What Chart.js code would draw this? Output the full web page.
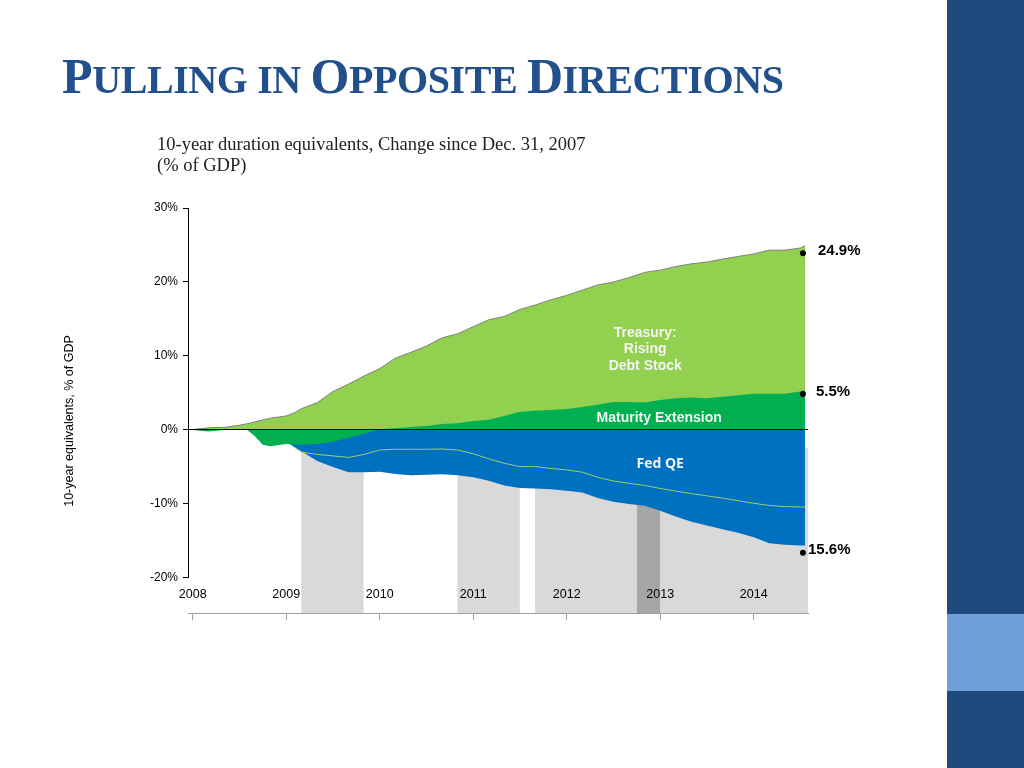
<!DOCTYPE html>
<html lang="en">

<head>
    <meta charset="UTF-8">
    <title>Pulling in Opposite Directions</title>
    <script src="https://cdn.jsdelivr.net/npm/chart.js"></script>
    <style>
        body {
            margin: 0;
            width: 1024px;
            height: 768px;
            position: relative;
            overflow: hidden;
            background: #fff;
            font-family: "Liberation Sans", Arial, sans-serif;
        }

        #durationChart {
            position: absolute;
            left: 0;
            top: 0;
        }

        .title {
            position: absolute;
            left: 62px;
            top: 51px;
            margin: 0;
            font-family: "Liberation Serif", serif;
            font-weight: bold;
            font-size: 50px;
            line-height: 50px;
            letter-spacing: -0.4px;
            color: #21508c;
            white-space: nowrap;
        }

        .title .sm { font-size: 40px; }

        .subtitle {
            position: absolute;
            left: 157px;
            top: 134px;
            font-family: "Liberation Serif", serif;
            font-size: 18.5px;
            line-height: 21px;
            color: #222;
        }

        .sidebar {
            position: absolute;
            left: 947px;
            top: 0;
            width: 77px;
            height: 768px;
            background: #1f497d;
        }

        .sidebar .light {
            position: absolute;
            left: 0;
            top: 614px;
            width: 77px;
            height: 77px;
            background: #6f9fd8;
        }
    </style>
</head>

<body>
    <canvas id="durationChart" width="1024" height="768"></canvas>
    <h1 class="title">P<span class="sm">ULLING IN </span>O<span class="sm">PPOSITE </span>D<span class="sm">IRECTIONS</span></h1>
    <div class="subtitle">10-year duration equivalents, Change since Dec. 31, 2007<br>(% of GDP)</div>
    <div class="sidebar"><div class="light"></div></div>

    <script>
        // months since Dec 31, 2007
        const months = [0, 2, 4, 6, 7, 8, 9, 10, 12, 13, 14, 16, 18, 20, 22, 24, 26, 28, 30, 32, 34, 36,
            38, 40, 42, 44, 46, 48, 50, 52, 54, 56, 58, 60, 62, 64, 66, 68, 70, 72, 74, 76, 78, 78.6];

        // Treasury: rising debt stock (top of light green)
        const treasury = [0.05, 0.3, 0.35, 0.65, 0.85, 1.1, 1.35, 1.6, 1.9, 2.3, 2.9, 3.7, 5.2, 6.2, 7.3, 8.3,
            9.7, 10.5, 11.35, 12.45, 13.0, 13.96, 14.9, 15.35, 16.3, 16.9, 17.6, 18.2, 18.9, 19.6, 20.0,
            20.6, 21.3, 21.6, 22.1, 22.45, 22.7, 23.1, 23.45, 23.8, 24.3, 24.3, 24.6, 24.9];

        // Maturity extension (dark green)
        const maturityExt = [0, -0.2, 0, 0, 0, -0.85, -2.0, -2.2, -1.9, -2.0, -2.0, -1.9, -1.6, -1.05, -0.5,
            0.1, 0.25, 0.4, 0.55, 0.8, 0.9, 1.2, 1.4, 1.9, 2.45, 2.6, 2.7, 2.85, 3.1, 3.4, 3.8, 3.8, 3.7,
            4.05, 4.3, 4.4, 4.3, 4.5, 4.7, 4.9, 4.9, 4.9, 5.2, 5.4];

        // Fed QE (blue)
        const fedQE = [0, 0, 0, 0, 0, 0, 0, 0, -1.5, -2.3, -2.9, -4.2, -5.0, -5.7, -5.7, -5.63, -5.95, -6.1,
            -6.05, -5.97, -6.1, -6.4, -6.85, -7.5, -7.85, -7.9, -8.0, -8.2, -8.45, -9.2, -9.7, -10.0,
            -10.25, -10.9, -11.7, -12.4, -12.9, -13.4, -13.9, -14.5, -15.3, -15.5, -15.6, -15.6];

        // thin line inside the Fed QE area
        const fedQELine = [null, null, null, null, null, null, null, null, null, -2.3, -3.0, -3.3, -3.5,
            -3.7, -3.3, -2.7, -2.6, -2.6, -2.6, -2.57, -2.7, -3.2, -3.9, -4.5, -4.95, -4.95, -5.2, -5.4,
            -5.7, -6.4, -6.9, -7.2, -7.5, -7.9, -8.25, -8.6, -8.9, -9.2, -9.55, -9.9, -10.2, -10.35,
            -10.4, -10.4];

        const yearTicks = [2008, 2009, 2010, 2011, 2012, 2013, 2014];
        const yTicks = [-20, -10, 0, 10, 20, 30];

        // shaded periods (years)
        const bandStart = [2009.16, 2010.83, 2011.66];
        const bandEnd = [2009.83, 2011.50, 2014.58];
        const darkBandStart = [2012.75];
        const darkBandEnd = [2013.0];
        const bandTop = -2.4;

        // end markers
        const endDate = 2014.527;
        const endValues = [23.9, 4.86, -16.6];
        const endLabels = ['24.9%', '5.5%', '15.6%'];

        const xMin = 2007.95;
        const xMax = 2014.581;

        const toYear = m => 2008 + m / 12;
        const pts = arr => months.map((m, i) => ({ x: toYear(m), y: arr[i] }));
        const band = (a, b) => [{ x: a, y: bandTop }, { x: b, y: bandTop }];

        const bandSets = bandStart.map((s, i) => ({
            label: 'band' + i,
            data: band(s, bandEnd[i]),
            backgroundColor: '#d9d9d9',
            borderColor: 'rgba(0,0,0,0)',
            borderWidth: 0,
            pointRadius: 0,
            fill: 'start'
        }));
        const darkSets = darkBandStart.map((s, i) => ({
            label: 'dark' + i,
            data: band(s, darkBandEnd[i]),
            backgroundColor: '#a6a6a6',
            borderColor: 'rgba(0,0,0,0)',
            borderWidth: 0,
            pointRadius: 0,
            fill: 'start'
        }));

        const font = { family: '"Liberation Sans", Arial, sans-serif', size: 12 };

        // y axis line (30% to -20%), axis title, area labels and end labels
        const decorations = {
            id: 'decorations',
            afterDraw(chart) {
                const { ctx, chartArea } = chart;
                const x = chart.scales.x;
                const y = chart.scales.y;
                ctx.save();
                const ax = Math.round(chartArea.left) + 0.5;
                const yTop = y.getPixelForValue(yTicks[yTicks.length - 1]);
                const yBot = y.getPixelForValue(yTicks[0]);
                ctx.strokeStyle = '#000';
                ctx.lineWidth = 1;
                ctx.beginPath();
                ctx.moveTo(ax, yTop);
                ctx.lineTo(ax, yBot);
                ctx.stroke();

                // rotated axis title
                ctx.save();
                ctx.translate(70, (yTop + yBot) / 2 + 28);
                ctx.rotate(-Math.PI / 2);
                ctx.fillStyle = '#000';
                ctx.font = '12.5px "Liberation Sans", Arial';
                ctx.textAlign = 'center';
                ctx.textBaseline = 'middle';
                ctx.fillText('10-year equivalents, % of GDP', 0, 0);
                ctx.restore();

                const areaText = [
                    { lines: ['Treasury:', 'Rising', 'Debt Stock'], x: 2012.84, y: 10.9, font: 'bold 14px "Liberation Sans", Arial' },
                    { lines: ['Maturity Extension'], x: 2012.99, y: 1.6, font: 'bold 14px "Liberation Sans", Arial' },
                    { lines: ['Fed QE'], x: 2013.0, y: -4.6, font: 'bold 14px "Open Sans", sans-serif' }
                ];
                ctx.fillStyle = '#f4f4f4';
                ctx.textAlign = 'center';
                ctx.textBaseline = 'middle';
                areaText.forEach(t => {
                    ctx.font = t.font;
                    const cx = x.getPixelForValue(t.x);
                    const cy = y.getPixelForValue(t.y);
                    const lh = 16.5;
                    t.lines.forEach((l, i) => {
                        ctx.fillText(l, cx, cy + (i - (t.lines.length - 1) / 2) * lh);
                    });
                });

                const offs = [[15, -2], [13, -2], [5, -3]];
                const meta = chart.getDatasetMeta(0);
                ctx.fillStyle = '#000';
                ctx.textAlign = 'left';
                ctx.font = 'bold 15px "Liberation Sans", Arial';
                meta.data.forEach((p, i) => {
                    ctx.fillText(endLabels[i], p.x + offs[i][0], p.y + offs[i][1]);
                });
                ctx.restore();
            }
        };

        const ctx = document.getElementById('durationChart').getContext('2d');
        const durationChart = new Chart(ctx, {
            type: 'line',
            data: {
                datasets: [{
                    label: 'end',
                    data: endValues.map(v => ({ x: endDate, y: v })),
                    showLine: false,
                    pointRadius: 3,
                    pointBackgroundColor: '#000',
                    pointBorderWidth: 0
                }, {
                    label: 'Fed QE line',
                    data: pts(fedQELine),
                    borderColor: '#9ccf6a',
                    borderWidth: 1,
                    pointRadius: 0,
                    fill: false
                }, {
                    label: 'Maturity Extension',
                    data: pts(maturityExt),
                    backgroundColor: '#00b050',
                    borderColor: 'rgba(0,0,0,0)',
                    borderWidth: 0,
                    pointRadius: 0,
                    fill: 'origin'
                }, {
                    label: 'Fed QE',
                    data: pts(fedQE),
                    backgroundColor: '#0070c0',
                    borderColor: 'rgba(0,0,0,0)',
                    borderWidth: 0,
                    pointRadius: 0,
                    fill: 'origin'
                }, {
                    label: 'Treasury',
                    data: pts(treasury),
                    backgroundColor: '#92d050',
                    borderColor: '#808080',
                    borderWidth: 1,
                    pointRadius: 0,
                    fill: 'origin'
                }, ...darkSets, ...bandSets]
            },
            options: {
                responsive: false,
                animation: false,
                devicePixelRatio: 1,
                layout: {
                    padding: { left: 60, top: 208, right: 216, bottom: 135 }
                },
                plugins: {
                    legend: { display: false },
                    tooltip: { enabled: false }
                },
                scales: {
                    x: {
                        type: 'linear',
                        min: xMin,
                        max: xMax,
                        position: 'bottom',
                        afterBuildTicks: s => { s.ticks = yearTicks.map(v => ({ value: v })); },
                        afterFit: s => { s.height = 20; },
                        border: { color: '#a0a0a0' },
                        grid: { drawOnChartArea: false, color: '#a0a0a0', tickLength: 7 },
                        ticks: { display: false }
                    },
                    xLabels: {
                        type: 'linear',
                        axis: 'x',
                        min: xMin,
                        max: xMax,
                        position: { y: -20 },
                        afterBuildTicks: s => { s.ticks = yearTicks.map(v => ({ value: v })); },
                        border: { display: false },
                        grid: { display: false, drawTicks: false },
                        ticks: {
                            z: 1,
                            color: '#000',
                            font: { family: font.family, size: 12.5 },
                            padding: 9,
                            maxRotation: 0,
                            callback: v => String(v)
                        }
                    },
                    y: {
                        type: 'linear',
                        min: -24.73,
                        max: 30,
                        afterBuildTicks: s => { s.ticks = yTicks.map(v => ({ value: v })); },
                        afterFit: s => { s.width = 128; },
                        border: { display: false },
                        grid: {
                            z: 1,
                            color: c => (c.tick && c.tick.value === 0) ? '#000' : 'rgba(0,0,0,0)',
                            tickColor: '#000',
                            tickLength: 5
                        },
                        ticks: {
                            color: '#000',
                            font: font,
                            padding: 5,
                            callback: v => v + '%'
                        }
                    }
                }
            },
            plugins: [decorations]
        });
    </script>
</body>

</html>
